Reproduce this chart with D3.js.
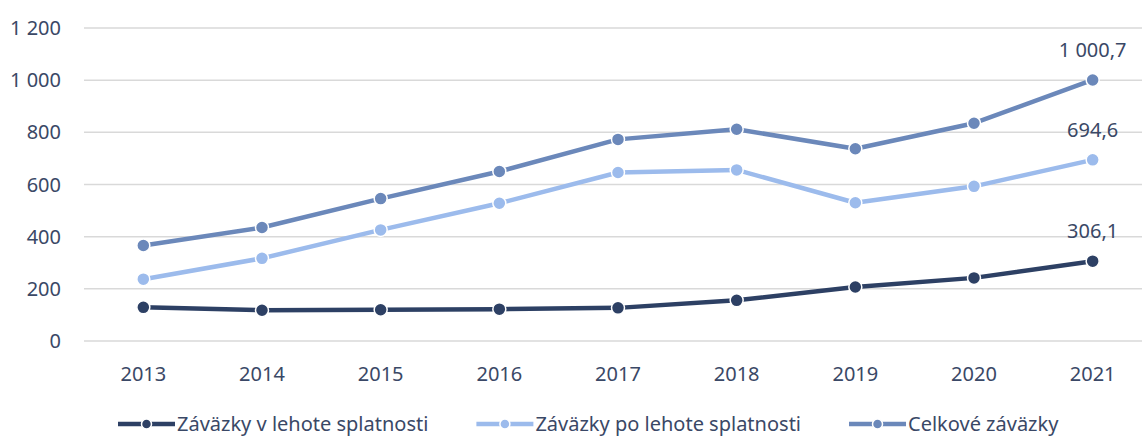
<!DOCTYPE html>
<html>
<head>
<meta charset="utf-8">
<script src="https://cdn.jsdelivr.net/npm/d3@7"></script>
<style>
  body { margin: 0; background: #fff; }
  svg text { font-family: "Noto Sans", "Open Sans", sans-serif; fill: #3a4866; }
</style>
</head>
<body>
<div id="chart"></div>
<script>
// data
var years = ["2013", "2014", "2015", "2016", "2017", "2018", "2019", "2020", "2021"];
var vLehote = [129, 118, 120, 122, 127, 156, 207, 242, 306.1];
var poLehote = [237, 317, 426, 528, 646, 656, 530, 593, 694.6];
var celkove = [366, 435, 546, 650, 773, 812, 737, 835, 1000.7];
var seriesNames = ["Záväzky v lehote splatnosti", "Záväzky po lehote splatnosti", "Celkové záväzky"];
var yTicks = [0, 200, 400, 600, 800, 1000, 1200];

var colors = ["#2d4064", "#9cbbec", "#6b88ba"];
var series = [vLehote, poLehote, celkove];

var W = 1142, H = 436;
var plotLeft = 84, plotRight = 1152, plotTop = 28, plotBottom = 341;

var svg = d3.select("#chart").append("svg")
    .attr("width", W)
    .attr("height", H);

var x = d3.scaleBand().domain(years).range([plotLeft, plotRight]);
var y = d3.scaleLinear().domain([0, 1200]).range([plotBottom, plotTop]);

function fmt(v) {
    // czech style: space thousands, comma decimal
    var s = d3.format(",.1f")(v);
    return s.replace(/,/g, " ").replace(".", ",");
}

// gridlines
svg.append("g").selectAll("line").data(yTicks).enter().append("line")
    .attr("x1", plotLeft).attr("x2", W)
    .attr("y1", function(d) { return y(d); })
    .attr("y2", function(d) { return y(d); })
    .style("stroke", "#d9d9d9")
    .style("stroke-width", 1.5);

// y labels
svg.append("g").selectAll("text").data(yTicks).enter().append("text")
    .attr("x", 61)
    .attr("y", function(d) { return y(d); })
    .attr("dy", "0.35em")
    .attr("text-anchor", "end")
    .style("font-size", "20px")
    .text(function(d) { return d3.format(",")(d).replace(/,/g, " "); });

// x labels
svg.append("g").selectAll("text").data(years).enter().append("text")
    .attr("x", function(d) { return x(d) + x.bandwidth() / 2; })
    .attr("y", 381)
    .attr("text-anchor", "middle")
    .style("font-size", "20px")
    .text(function(d) { return d; });

var line = d3.line()
    .x(function(d, i) { return x(years[i]) + x.bandwidth() / 2; })
    .y(function(d) { return y(d); });

// lines, top series drawn last
series.forEach(function(vals, k) {
    var g = svg.append("g");
    g.append("path")
        .datum(vals)
        .attr("d", line)
        .style("fill", "none")
        .style("stroke", colors[k])
        .style("stroke-width", 4.5)
        .style("stroke-linejoin", "round");
    g.selectAll("circle").data(vals).enter().append("circle")
        .attr("cx", function(d, i) { return x(years[i]) + x.bandwidth() / 2; })
        .attr("cy", function(d) { return y(d); })
        .attr("r", 6.5)
        .style("fill", colors[k])
        .style("stroke", "#fff")
        .style("stroke-width", 1.5);
    // label on the last point
    var last = vals.length - 1;
    g.append("text")
        .attr("x", x(years[last]) + x.bandwidth() / 2)
        .attr("y", y(vals[last]) - 30)
        .attr("dy", "0.35em")
        .attr("text-anchor", "middle")
        .style("font-size", "20px")
        .text(fmt(vals[last]));
});

// legend
var legend = svg.append("g");
var lx = 118, ly = 424;
seriesNames.forEach(function(name, k) {
    var item = legend.append("g");
    item.append("line")
        .attr("x1", lx).attr("x2", lx + 57)
        .attr("y1", ly).attr("y2", ly)
        .style("stroke", colors[k])
        .style("stroke-width", 4.5);
    item.append("circle")
        .attr("cx", lx + 28.5).attr("cy", ly)
        .attr("r", 5)
        .style("fill", colors[k])
        .style("stroke", "#fff")
        .style("stroke-width", 1.5);
    var t = item.append("text")
        .attr("x", lx + 59)
        .attr("y", ly)
        .attr("dy", "0.35em")
        .style("font-size", "20px")
        .text(name);
    lx = lx + 59 + t.node().getComputedTextLength() + 48;
});
</script>
</body>
</html>
